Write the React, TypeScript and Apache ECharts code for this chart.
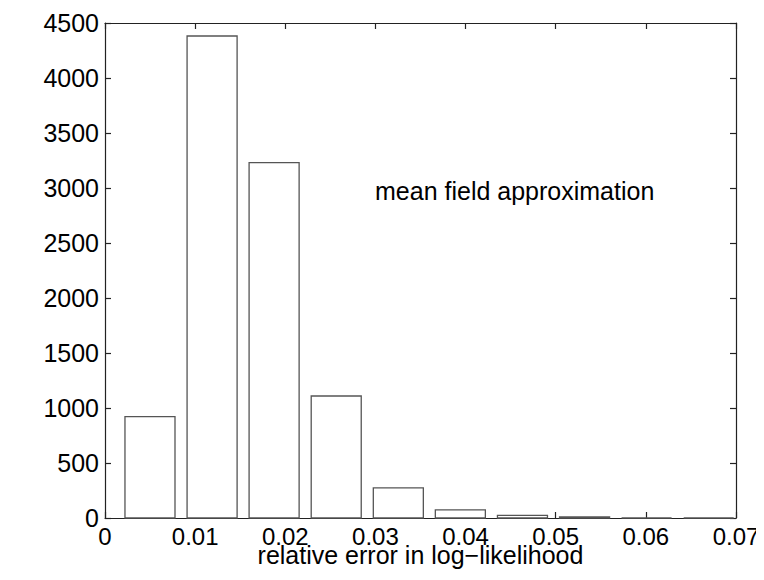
import React, { useEffect, useRef } from "react";
import * as echarts from "echarts";

const binCenters = [0.00499, 0.01188, 0.01876, 0.02565, 0.03254, 0.03942, 0.04631, 0.0532, 0.06008, 0.06697];
const counts = [921, 4382, 3230, 1109, 273, 73, 24, 10, 0, 0];
const barWidth = 0.00555;
const xTicks = { min: 0, max: 0.07, interval: 0.01 };
const yTicks = { min: 0, max: 4500, interval: 500 };
const xLabel = "relative error in log\u2212likelihood";
const annotation = "mean field approximation";

const FONT = "'Liberation Sans', Arial, Helvetica, sans-serif";

export default function App() {
  const ref = useRef<HTMLDivElement>(null);
  useEffect(() => {
    if (!ref.current) return;
    const chart = echarts.init(ref.current, null, { renderer: "svg" });
    const axisLine = { show: true, onZero: false, lineStyle: { color: "#222", width: 1.2 } };
    const axisTick = { show: true, inside: true, length: 6, lineStyle: { color: "#222", width: 1.2 } };
    const fmtX = (v: number) => (v === 0 ? "0" : String(Number(v.toFixed(2))));
    const fmtY = (v: number) => String(Math.round(v));
    chart.setOption({
      animation: false,
      backgroundColor: "#fff",
      grid: { left: 105, right: 28, top: 23, bottom: 62, containLabel: false },
      xAxis: [
        {
          type: "value",
          ...xTicks,
          position: "bottom",
          axisLine,
          axisTick,
          splitLine: { show: false },
          axisLabel: { color: "#000", fontSize: 24, lineHeight: 17, fontFamily: FONT, margin: 10, formatter: fmtX },
          name: xLabel,
          nameLocation: "middle",
          nameGap: 37,
          nameMoveOverlap: false,
          nameTextStyle: { color: "#000", fontSize: 25, lineHeight: 17, fontFamily: FONT, verticalAlign: "middle" },
        },
        {
          type: "value",
          ...xTicks,
          position: "top",
          axisLine,
          axisTick,
          splitLine: { show: false },
          axisLabel: { show: false },
        },
      ],
      yAxis: [
        {
          type: "value",
          ...yTicks,
          position: "left",
          axisLine,
          axisTick,
          splitLine: { show: false },
          axisLabel: { color: "#000", fontSize: 25, fontFamily: FONT, margin: 6, formatter: fmtY },
        },
        {
          type: "value",
          ...yTicks,
          position: "right",
          axisLine,
          axisTick,
          splitLine: { show: false },
          axisLabel: { show: false },
        },
      ],
      graphic: [
        {
          type: "text",
          left: 375,
          top: 178,
          style: { text: annotation, fill: "#000", font: `25px ${FONT}` },
        },
      ],
      series: [
        {
          type: "custom",
          xAxisIndex: 0,
          yAxisIndex: 0,
          data: binCenters.map((c, i) => [c, counts[i]]),
          renderItem: (params: any, api: any) => {
            const c = api.value(0);
            const v = api.value(1);
            const p0 = api.coord([c - barWidth / 2, v]);
            const p1 = api.coord([c + barWidth / 2, 0]);
            return {
              type: "rect",
              shape: { x: p0[0], y: p0[1], width: p1[0] - p0[0], height: p1[1] - p0[1] },
              style: { fill: "#fff", stroke: "#555", lineWidth: 1.3 },
            };
          },
        },
      ],
    });
    return () => chart.dispose();
  }, []);
  return <div ref={ref} style={{ width: 764, height: 580, margin: -8 }} />;
}
